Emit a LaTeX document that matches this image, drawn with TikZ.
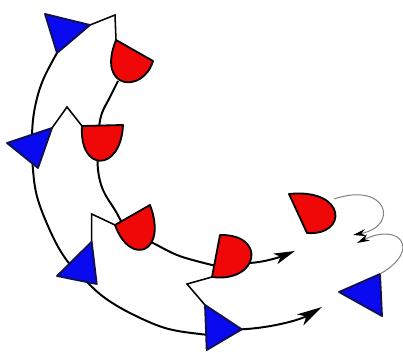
\documentclass[tikz,border=0pt]{standalone}
\usetikzlibrary{arrows.meta}
\definecolor{triblue}{HTML}{0A0AF0}
\definecolor{trinavy}{HTML}{12124A}
\definecolor{deered}{HTML}{F00808}

\begin{document}
\begin{tikzpicture}[x=0.25mm, y=-0.25mm,
  tri/.style={fill=triblue, draw=trinavy, line width=1.3pt, line join=round},
  dee/.style={fill=deered, draw=black, line width=1.3pt, line join=round},
  track/.style={line width=1.4pt},
  link/.style={line width=1.1pt},
  arr/.style={-{Stealth[length=15pt, width=8pt, inset=4pt]}, line width=1.4pt},
  thinarr/.style={-{Stealth[length=9pt, width=5pt, black]}, gray, line width=0.7pt},
]
\useasboundingbox (0,0) rectangle (403,352);

% ---- corner points ----
\coordinate (t1b) at (90,25);
\coordinate (t1c) at (57,53);
\coordinate (t2b) at (52,128);
\coordinate (t3b) at (91.7,241.7);
\coordinate (t4a) at (205,305);
\coordinate (t4b) at (241.7,329.3);
\coordinate (t5b) at (380,274);

\coordinate (d1a) at (116,40);
\coordinate (d1b) at (153,61);
\coordinate (d1m) at (118,81);
\coordinate (d2a) at (82,126);
\coordinate (d2b) at (123,125);
\coordinate (d3a) at (115,225);
\coordinate (d3b) at (150,205);
\coordinate (d4a) at (220,235);
\coordinate (d4b) at (212,277);
\coordinate (d4r) at (250,263);
\coordinate (d5a) at (289,194);
\coordinate (d5b) at (307,233);
\coordinate (d5r) at (334,199);

\coordinate (k1) at (115,15);
\coordinate (k2) at (67,107);
\coordinate (k3) at (91.7,214);
\coordinate (k4) at (187,284);

\coordinate (oend) at (322,307);
\coordinate (iend) at (295,251);
\coordinate (aend) at (353,235);
\coordinate (bend) at (357,243);

% ---- outer and inner tracks ----
\draw[track] plot[smooth, tension=0.6] coordinates {(t1c) (43,80) (35,107) (32,135)
  (33,170) (38,200) (53,237) (68,262) (88,283) (105,298) (130,313) (165,328)
  (200,334) (222,335) (t4b)};
\draw[track] plot[smooth, tension=0.6] coordinates {(d1m) (110,97) (102,113) (99,128)
  (98,150) (98,170) (103,190) (115,210) (128,230) (153,243) (177,255) (200,262)
  (212,265) (235,266) (d4r)};

% ---- zigzag links ----
\draw[link] (t1b) -- (k1) -- (d1a);
\draw[link] (t2b) -- (k2) -- (d2a);
\draw[link] (t3b) -- (k3) -- (d3a);
\draw[link] (t4a) -- (k4) -- (d4b);

% ---- triangles ----
\draw[tri] (45,14) -- (t1b) -- (t1c) -- cycle;
\draw[tri] (7,143) -- (t2b) -- (38,168) -- cycle;
\draw[tri] (57,276) -- (t3b) -- (96.7,284) -- cycle;
\draw[tri] (t4a) -- (t4b) -- (206.7,350) -- cycle;
\draw[tri] (339,292) -- (t5b) -- (382,316) -- cycle;

% ---- half discs ----
\draw[dee] (d1a) -- (d1b) .. controls (143,94) and (96,90) .. cycle;
\draw[dee] (d2a) -- (d2b) .. controls (121,172) and (79,173) .. cycle;
\draw[dee] (d3a) -- (d3b) .. controls (168,253) and (130,267) .. cycle;
\draw[dee] (d4a) -- (d4b) .. controls (259,283) and (267,234) .. cycle;
\draw[dee] (d5a) -- (d5b) .. controls (348,236) and (347,188) .. cycle;

% ---- arrows ----
\draw[arr, -{Stealth[length=18pt, width=9pt, inset=5pt]}] (t4b) .. controls (270,328) and (300,320) .. (oend);
\draw[arr] (d4r) .. controls (265,262) and (280,257) .. (iend);
\draw[thinarr] (d5r) .. controls (387,181) and (400,226) .. (aend);
\draw[thinarr] (t5b) .. controls (422,250) and (400,222) .. (bend);

\end{tikzpicture}
\end{document}
